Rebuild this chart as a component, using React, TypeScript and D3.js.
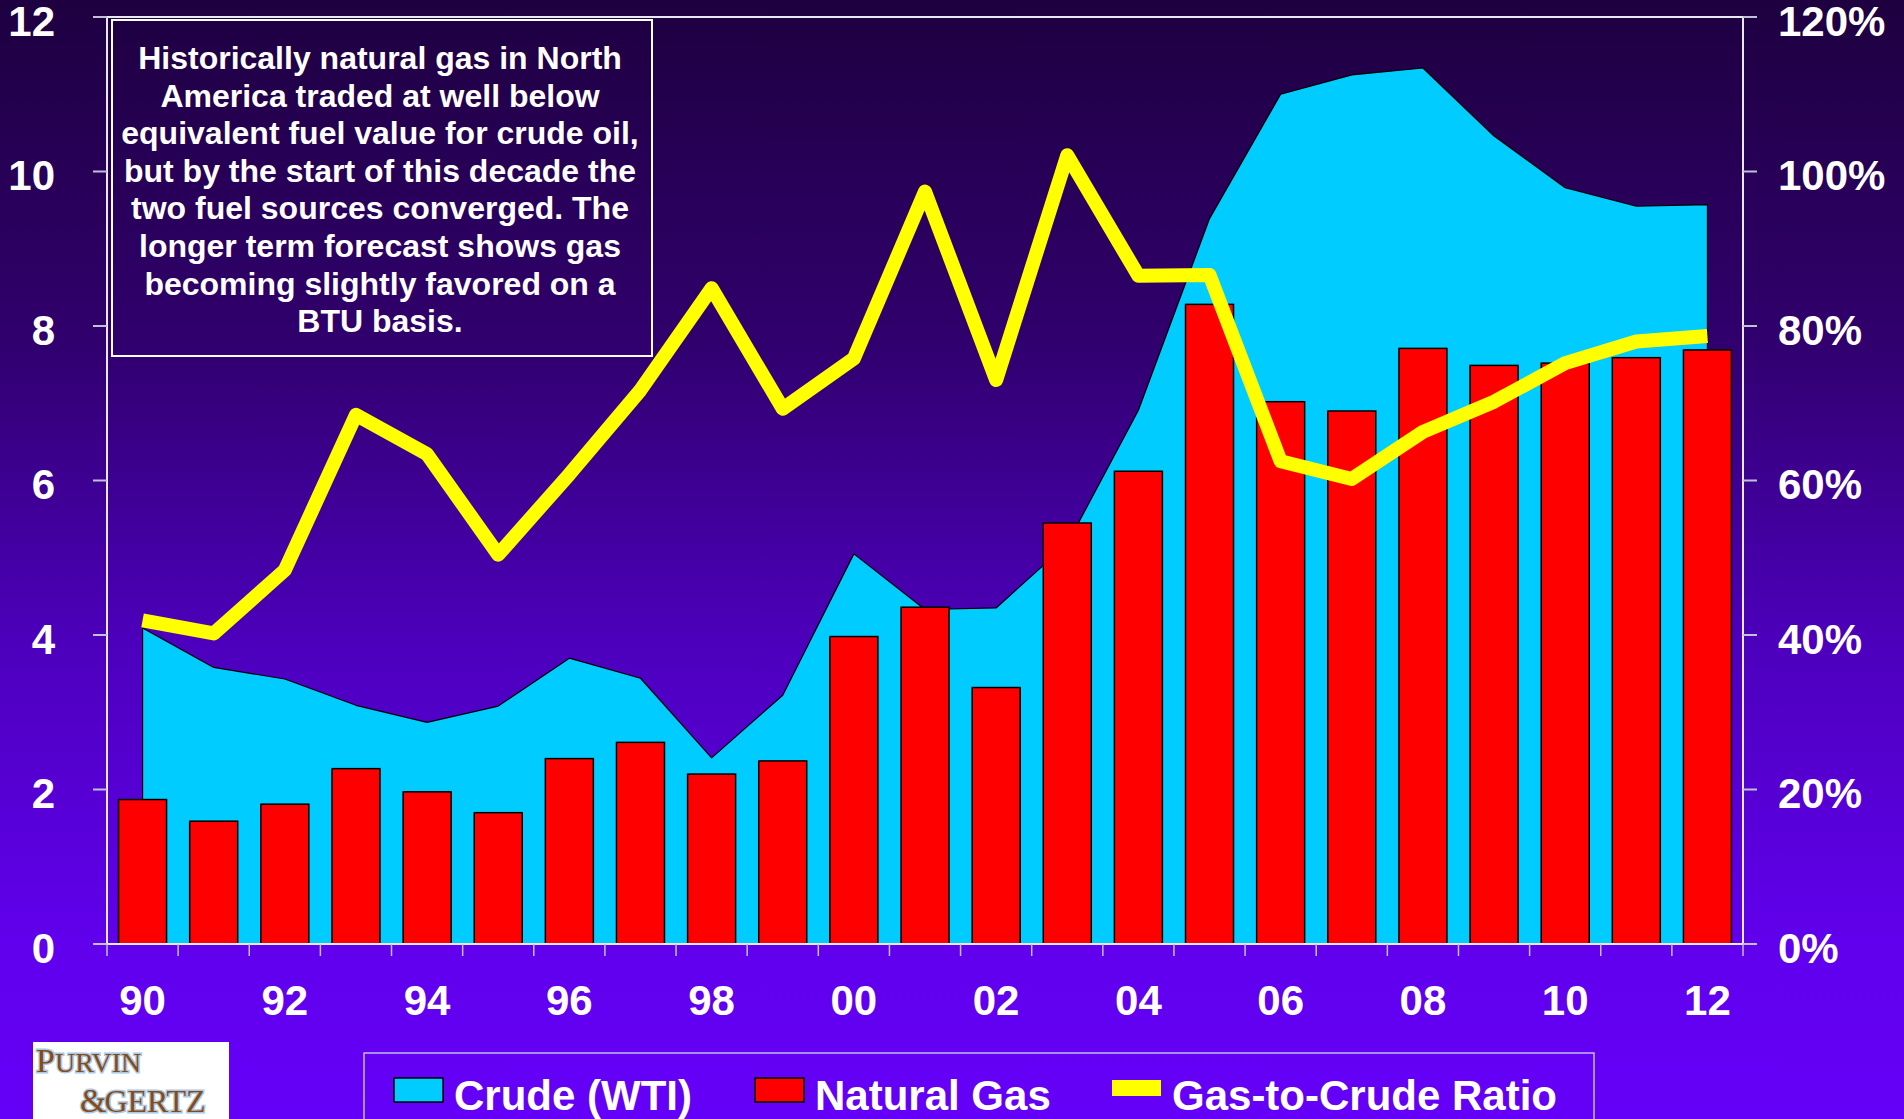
import React from 'react';
import * as d3 from 'd3';

const years = ['90','91','92','93','94','95','96','97','98','99','00','01','02','03','04','05','06','07','08','09','10','11','12'];
const gasPrice = [1.87,1.59,1.81,2.27,1.97,1.70,2.40,2.61,2.20,2.37,3.98,4.36,3.32,5.45,6.12,8.28,7.02,6.90,7.71,7.49,7.52,7.59,7.69];
const crudePrice = [4.09,3.58,3.43,3.09,2.87,3.08,3.70,3.44,2.41,3.22,5.05,4.33,4.35,5.18,6.91,9.39,11.00,11.25,11.34,10.46,9.79,9.55,9.57];
const gasToCrude = [41.9,40.2,48.4,68.5,63.4,50.4,60.8,71.7,84.9,69.3,75.8,97.4,73.0,102.1,86.5,86.6,62.5,60.2,66.3,70.2,75.2,78.0,78.7];
const xTickLabels = ['90','92','94','96','98','00','02','04','06','08','10','12'];
const leftTicks = [0,2,4,6,8,10,12];
const rightTicks = [0,20,40,60,80,100,120];
const legendItems = ['Crude (WTI)','Natural Gas','Gas-to-Crude Ratio'];
const noteLines = [
  'Historically natural gas in North',
  'America traded at well below',
  'equivalent fuel value for crude oil,',
  'but by the start of this decade the',
  'two fuel sources converged. The',
  'longer term forecast shows gas',
  'becoming slightly favored on a',
  'BTU basis.',
];

const W = 1904, H = 1119;
const L = 107, R = 1743, T = 17, B = 944;
const FONT = '"Liberation Sans", Arial, Helvetica, sans-serif';

export default function App() {
  const x = d3.scaleBand<string>().domain(years).range([L, R]).paddingInner(0.325).paddingOuter(0.1625);
  const step = x.step();
  const cx = (y: string) => (x(y) as number) + x.bandwidth() / 2;
  const yL = d3.scaleLinear().domain([0, 12]).range([B, T]);
  const yR = d3.scaleLinear().domain([0, 120]).range([B, T]);

  const area = d3.area<number>().x((_, i) => cx(years[i])).y0(yL(0)).y1(d => yL(d));
  const line = d3.line<number>().x((_, i) => cx(years[i])).y(d => yR(d));

  const bounds = d3.range(years.length + 1).map(i => L + i * step);

  const swatchColors = ['#00ccff', '#ff0000', '#ffff00'];
  const legendX = [394, 755, 1112];

  return (
    <svg width={W} height={H} style={{ position: 'absolute', left: 0, top: 0 }} fontFamily={FONT}>
      <defs>
        <linearGradient id="bg" x1="0" y1="0" x2="0" y2="1">
          <stop offset="0" stopColor="#1e0040" />
          <stop offset="0.3" stopColor="#30006c" />
          <stop offset="0.58" stopColor="#4d00bd" />
          <stop offset="0.84" stopColor="#6000ec" />
          <stop offset="1" stopColor="#6500f8" />
        </linearGradient>
      </defs>
      <rect x={0} y={0} width={W} height={H} fill="url(#bg)" />

      {/* crude area */}
      <path d={area(crudePrice) as string} fill="#00ccff" stroke="#000" strokeWidth={1.2} strokeLinejoin="round" />

      {/* gas bars */}
      {gasPrice.map((v, i) => (
        <rect key={years[i]} x={x(years[i])} y={yL(v)} width={x.bandwidth()} height={yL(0) - yL(v)}
          fill="#ff0000" stroke="#000" strokeWidth={1.5} />
      ))}

      {/* ratio line */}
      <path d={line(gasToCrude) as string} fill="none" stroke="#ffff00" strokeWidth={14}
        strokeLinejoin="round" strokeLinecap="butt" />

      {/* frame and axes */}
      <line x1={L} x2={R} y1={T} y2={T} stroke="#e8e8f0" strokeWidth={2} />
      <line x1={L} x2={L} y1={T} y2={B} stroke="#e8e8f0" strokeWidth={2} />
      <line x1={R} x2={R} y1={T} y2={B} stroke="#e8e8f0" strokeWidth={2} />
      <line x1={L} x2={R} y1={B} y2={B} stroke="#e8e8f0" strokeWidth={2} />

      {leftTicks.map(t => (
        <g key={'l' + t}>
          <line x1={L - 14} x2={L} y1={yL(t)} y2={yL(t)} stroke="#c0c0d8" strokeWidth={2} />
          <text x={55} y={yL(t) + 18.5} textAnchor="end" fontSize={42} fontWeight="bold" fill="#fff">{t}</text>
        </g>
      ))}
      {rightTicks.map(t => (
        <g key={'r' + t}>
          <line x1={R} x2={R + 14} y1={yR(t)} y2={yR(t)} stroke="#c0c0d8" strokeWidth={2} />
          <text x={1778} y={yR(t) + 18.5} textAnchor="start" fontSize={42} fontWeight="bold" fill="#fff">{t}%</text>
        </g>
      ))}
      {bounds.map((bx, i) => (
        <line key={'xt' + i} x1={bx} x2={bx} y1={B} y2={B + 12} stroke="#c0c0d8" strokeWidth={1.5} />
      ))}
      {xTickLabels.map(lab => (
        <text key={'xl' + lab} x={cx(lab)} y={1015} textAnchor="middle" fontSize={42} fontWeight="bold" fill="#fff">{lab}</text>
      ))}

      {/* note box */}
      <rect x={112} y={20} width={540} height={336} fill="none" stroke="#ffffff" strokeWidth={2} />
      {noteLines.map((s, i) => (
        <text key={'n' + i} x={380} y={69 + i * 37.6} textAnchor="middle" fontSize={32} fontWeight="bold" fill="#fff">{s}</text>
      ))}

      {/* legend */}
      <rect x={364} y={1053} width={1230} height={80} fill="none" stroke="#c8b8ff" strokeWidth={1.5} />
      {legendItems.map((s, i) => (
        <g key={'lg' + i}>
          <rect x={legendX[i]} y={i === 2 ? 1080 : 1078} width={49} height={i === 2 ? 16 : 24}
            fill={swatchColors[i]} stroke={i === 2 ? 'none' : '#000'} strokeWidth={1.5} />
          <text x={legendX[i] + 60} y={1110} fontSize={42} fontWeight="bold" fill="#fff">{s}</text>
        </g>
      ))}

      {/* logo */}
      <rect x={33} y={1042} width={196} height={77} fill="#ffffff" />
      <g fontFamily='"Liberation Serif", "DejaVu Serif", serif' fill="#8a4a14" stroke="#a9c9e6" strokeWidth={3}
        style={{ paintOrder: 'stroke' } as any}>
        <text x={36} y={1072} fontSize={34}>P<tspan fontSize={28}>URVIN</tspan></text>
        <text x={80} y={1112} fontSize={34}>&amp;<tspan fontSize={32} dx={-2}>GERTZ</tspan></text>
      </g>
    </svg>
  );
}
